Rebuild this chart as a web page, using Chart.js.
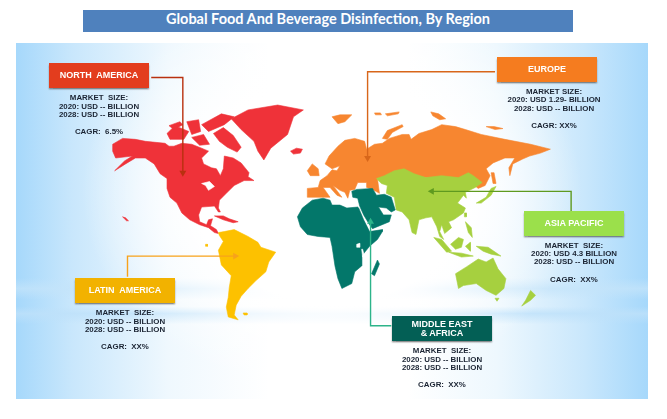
<!DOCTYPE html>
<html><head><meta charset="utf-8">
<script src="https://cdn.jsdelivr.net/npm/chart.js@4"></script>
<style>
html,body{margin:0;padding:0;background:#fff;width:667px;height:419px;overflow:hidden}
#panel{position:absolute;left:16px;top:43px;width:632px;height:356px;
background:
 radial-gradient(ellipse 250px 200px at 50% 42%,#fff 55%,rgba(255,255,255,0) 100%),
 linear-gradient(to bottom,rgba(255,255,255,0) 66%,rgba(196,228,250,.75) 69%,rgba(255,255,255,0) 72%,rgba(255,255,255,0) 74%,rgba(190,225,250,.8) 76%,rgba(255,255,255,0) 79%),
 linear-gradient(to right,#a6d8fb 0,#c9e7fc 9%,#eff8fe 24%,#fff 40%,#fff 62%,#eef8fe 76%,#c9e7fc 90%,#a6d8fb 100%);}
canvas{position:absolute;left:0;top:0}
.t{position:absolute;left:83px;top:10px;width:490px;height:22px;line-height:22px;background:#4f81bd;color:#fff;
 font:bold 14.5px Lato,"Open Sans",sans-serif;text-align:center;white-space:pre}
.box{position:absolute;width:100px;height:25px;color:#fff;font:bold 9px "Liberation Sans",sans-serif;
 display:flex;align-items:center;justify-content:center;text-align:center;white-space:pre;line-height:9px;
 box-shadow:0 1.5px 1.5px rgba(70,70,70,.6)}
.ln{position:absolute;width:130px;text-align:center;font:bold 7.9px/8px "Liberation Sans",sans-serif;color:#1b2433;white-space:pre}
</style></head><body>
<div id="panel"></div>
<canvas id="c" width="667" height="419"></canvas>
<div id="ov"></div>
<script>
// ---- text content ----
const titleText = "Global Food And Beverage Disinfection, By Region";
const regionNames = ["NORTH  AMERICA","EUROPE","ASIA PACIFIC","LATIN  AMERICA","MIDDLE EAST\n& AFRICA"];
const size2020 = ["2020: USD -- BILLION","2020: USD 1.29- BILLION","2020: USD 4.3 BILLION","2020: USD -- BILLION","2020: USD -- BILLION"];
const size2028 = ["2028: USD -- BILLION","2028: USD -- BILLION","2028: USD -- BILLION","2028: USD -- BILLION","2028: USD -- BILLION"];
const cagrText = ["CAGR:  6.5%","CAGR: XX%","CAGR:  XX%","CAGR:  XX%","CAGR:  XX%"];

// ---- map shapes, in picture units ----
const northAmerica = [[110,143],[120,137],[133,138],[143,140],[163,142],[167,145],[172,145],[180,142],[190,143],[200,147],[207,150],[200,157],[202,163],[210,167],[215,168],[219,175],[222,168],[223,155],[232,157],[240,162],[248,172],[247,176],[253,180],[243,180],[233,185],[225,193],[218,200],[217,208],[219,212],[217,212],[213,206],[200,207],[197,215],[198,222],[205,225],[207,220],[211,219],[209,226],[215,230],[217,234],[213,233],[207,228],[198,225],[188,220],[180,213],[175,203],[168,197],[165,188],[165,178],[158,173],[152,163],[143,157],[133,157],[123,163],[112,170],[122,160],[130,155],[113,157],[110,150]];
const baffin = [[212,132],[222,126],[232,134],[240,146],[236,151],[226,146],[218,140]];
const ellesmere = [[200,123],[220,112],[233,115],[223,123],[207,130]];
const victoria = [[165,132],[173,124],[187,130],[182,138],[168,138]];
const arcticA = [[185,120],[197,118],[199,130],[190,133]];
const arcticB = [[167,124],[178,120],[181,123],[172,128]];
const arcticC = [[190,136],[202,133],[208,143],[198,144]];
const greenland = [[230,117],[247,108],[277,103],[303,108],[293,115],[287,133],[270,147],[263,159],[257,150],[253,140],[240,128]];
const redIsle = [[290,150],[296,147],[302,148],[300,152],[293,153]];
const hawaii = [[120,217],[123,218],[126,221],[124,221]];
const cuba = [[213,216],[222,216],[228,219],[237,222],[232,223],[222,220]];
const latinAmerica = [[217,233],[223,232],[233,230],[247,237],[257,243],[260,248],[275,253],[268,263],[265,273],[255,282],[247,290],[240,298],[235,307],[233,317],[237,322],[227,319],[225,309],[227,299],[228,289],[230,277],[220,266],[217,251],[222,242],[218,236]];
const falkland = [[242,315],[246,315],[246,317],[243,317]];
const galapagos = [[204,245],[206,245],[206,247],[204,247]];
const eurasia = [[307,188],[318,187],[320,180],[327,175],[332,169],[337,170],[340,165],[332,168],[325,163],[329,155],[338,145],[345,139],[355,137],[365,140],[367,148],[375,143],[383,142],[390,137],[403,133],[410,133],[412,138],[420,132],[433,128],[443,123],[457,125],[467,128],[483,133],[507,138],[533,143],[553,148],[543,152],[532,155],[525,158],[515,163],[512,175],[511,167],[517,157],[507,157],[495,162],[488,168],[492,175],[487,185],[480,188],[470,180],[400,175],[378,178],[380,193],[373,189],[367,187],[367,182],[358,182],[355,189],[350,190],[348,198],[345,192],[340,190],[333,185],[342,197],[337,195],[330,187],[323,187],[330,197],[307,197]];
const britain = [[307,170],[312,163],[318,168],[319,175],[310,175]];
const icelandEu = [[332,115],[340,113],[352,113],[345,120],[338,122]];
const svalbard = [[375,111],[381,111],[382,113],[376,113]];
const franzJ = [[386,112],[400,110],[399,112],[388,114]];
const novaya = [[383,137],[388,129],[403,123],[404,125],[393,131],[388,138]];
const severnaya = [[432,110],[440,112],[447,117],[441,118],[434,114]];
const siberiaIsle = [[488,125],[496,125],[505,127],[497,128]];
const sakhalin = [[493,172],[496,172],[498,183],[495,183]];
const africa = [[297,217],[302,208],[312,200],[323,198],[330,200],[332,205],[340,205],[347,208],[358,207],[359,208],[364,220],[370,232],[383,230],[383,232],[378,240],[370,247],[362,257],[362,267],[355,273],[352,285],[342,290],[338,280],[335,267],[332,247],[330,238],[318,237],[307,235],[300,227]];
const middleEast = [[352,191],[357,189],[373,188],[377,195],[385,194],[392,197],[396,210],[392,212],[387,208],[379,207],[384,215],[392,215],[390,222],[373,229],[370,225],[364,215],[360,206],[358,198],[353,197]];
const madagascar = [[372,275],[378,261],[380,265],[375,277]];
const asia = [[377,178],[385,175],[395,170],[405,168],[415,173],[427,177],[443,175],[460,177],[470,172],[475,175],[484,182],[477,187],[467,192],[468,198],[465,195],[459,203],[467,208],[465,213],[455,220],[450,222],[453,228],[446,234],[443,225],[441,232],[445,240],[441,237],[438,227],[433,217],[427,218],[420,220],[417,235],[413,233],[410,220],[403,212],[397,210],[395,197],[387,193],[388,185],[382,183]];
const japan = [[478,203],[488,197],[493,188],[498,186],[493,195],[483,203]];
const taiwan = [[466,213],[468,213],[468,217],[466,217]];
const philippines = [[467,222],[473,228],[474,238],[470,233]];
const sumatra = [[435,238],[443,240],[453,252],[448,253]];
const java = [[450,253],[463,254],[475,257],[463,258]];
const borneo = [[452,245],[460,238],[465,240],[463,248],[457,250]];
const sulawesi = [[467,247],[472,243],[472,252]];
const newGuinea = [[478,247],[490,248],[503,257],[493,255],[485,252]];
const australia = [[457,275],[468,268],[480,260],[488,263],[495,259],[500,270],[508,280],[506,290],[498,297],[488,292],[478,285],[465,287],[460,290]];
const tasmania = [[497,300],[501,300],[499,303]];
const newZealand = [[533,292],[538,297],[533,302],[524,308],[528,302]];
const lakeHudson = [[206,152],[214,154],[219,160],[221,172],[215,166],[204,163],[200,157]];
const lakeVictoria = [[357,245],[360,244],[360,248],[357,248]];
const lakeMalawi = [[362,250],[363,250],[365,258],[363,258]];
const greatLakes = [[200,183],[208,181],[213,186],[207,190],[204,185]];

// ---- callout lines, in picture units ----
const naLine = [[149,75],[181,75],[181,172]];
const euLine = [[497,69],[368,69],[368,157]];
const apLine = [[574,211],[574,191],[433,191]];
const laLine = [[125,278],[125,257],[234,257]];
const meLine = [[392,328],[371,328],[371,222]];

const RED="#ef3239",ORG="#f78630",GRN="#a6d03f",YEL="#fdc100",TEAL="#03776a";
const shapes = [
 [eurasia,ORG],[britain,ORG],[icelandEu,ORG],[svalbard,ORG],[franzJ,ORG],[novaya,ORG],[severnaya,ORG],[siberiaIsle,ORG],[sakhalin,ORG],
 [asia,GRN],[japan,GRN],[taiwan,GRN],[philippines,GRN],[sumatra,GRN],[java,GRN],[borneo,GRN],[sulawesi,GRN],[newGuinea,GRN],[australia,GRN],[tasmania,GRN],[newZealand,GRN],
 [africa,TEAL],[middleEast,TEAL],[madagascar,TEAL],
 [northAmerica,RED],[baffin,RED],[ellesmere,RED],[victoria,RED],[arcticA,RED],[arcticB,RED],[arcticC,RED],[greenland,RED],[redIsle,RED],[hawaii,RED],[cuba,RED],
 [latinAmerica,YEL],[falkland,YEL],[galapagos,YEL],
 [lakeVictoria,"#ffffff"],[lakeMalawi,"#ffffff"],[greatLakes,"#ffffff"]
];
const callouts = [
 [naLine,"#b9300f",180],[euLine,"#d8661a",180],[apLine,"#5f9a1f",-90],[laLine,"#f7a21b",90],[meLine,"#2db48a",0]
];
const pts = a => a.map(p=>({x:p[0],y:p[1]}));
const datasets = [];
shapes.forEach(([a,c])=>{const d=pts(a);d.push(d[0]);
 datasets.push({data:d,showLine:true,fill:'shape',backgroundColor:c,borderColor:c,borderWidth:.6,pointRadius:0,tension:0});});
callouts.forEach(([a,c,rot])=>{
 datasets.push({data:pts(a),showLine:true,fill:false,borderColor:c,backgroundColor:c,borderWidth:1.4,tension:0,
  pointRadius:a.map((_,i)=>i===a.length-1?4:0),pointStyle:'triangle',pointRotation:rot,pointBorderWidth:0});});
datasets.forEach((d,i)=>d.order=datasets.length-i);

new Chart(document.getElementById('c'),{type:'scatter',data:{datasets},options:{
 responsive:false,animation:false,events:[],layout:{padding:0},
 plugins:{legend:{display:false},tooltip:{enabled:false},title:{display:false}},
 scales:{x:{type:'linear',min:0,max:667,display:false},y:{type:'linear',min:0,max:419,reverse:true,display:false}}
}});

// ---- labels ----
const boxSpots=[[49,63,"#e33d1e"],[497,57,"#f57c1f"],[524,211,"#9be04b"],[75,278,"#f2b200"],[392,316,"#035f55"]];
const textSpots=[[99,[94,103,111,128]],[554,[88,96,105,122]],[574,[242,250,258,276]],[125,[309,318,326,343]],[442,[347,356,364,381]]];
const sizeHead=["MARKET  SIZE:","MARKET SIZE:","MARKET  SIZE:","MARKET  SIZE:","MARKET  SIZE:"];
const ov=document.getElementById('ov');
const add=(cls,txt,st)=>{const e=document.createElement('div');e.className=cls;e.textContent=txt;Object.assign(e.style,st||{});ov.appendChild(e);};
add('t',titleText);
regionNames.forEach((n,i)=>{
 const [x,y,c]=boxSpots[i];
 add('box',n,{left:x+'px',top:y+'px',background:c});
 const [cx,ys]=textSpots[i];
 [sizeHead[i],size2020[i],size2028[i],cagrText[i]].forEach((s,j)=>add('ln',s,{left:(cx-65)+'px',top:ys[j]+'px'}));
});
</script>
</body></html>
